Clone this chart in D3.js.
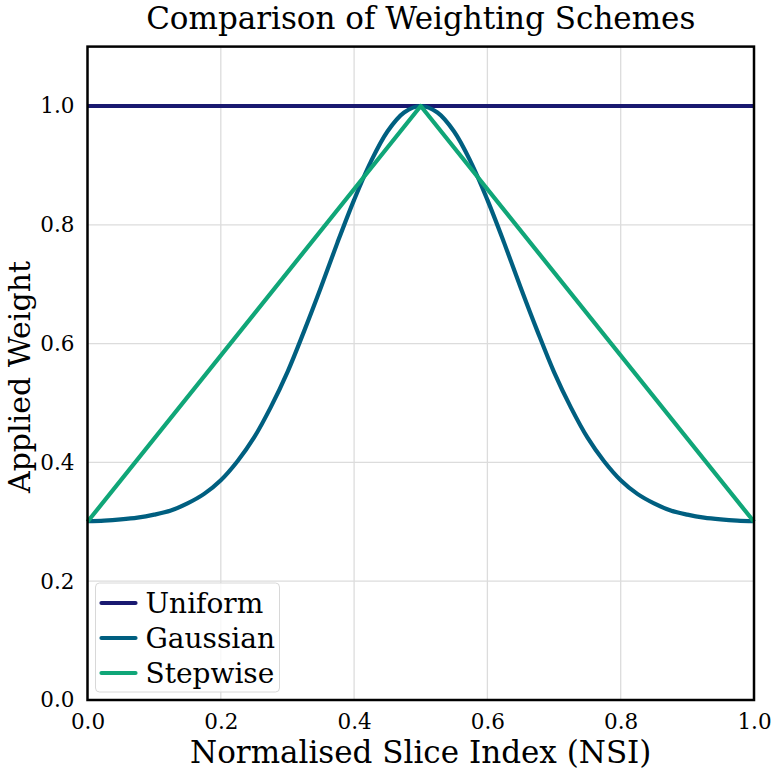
<!DOCTYPE html>
<html>
<head>
<meta charset="utf-8">
<script src="https://cdn.jsdelivr.net/npm/d3@7"></script>
<style>
  body { margin: 0; background: #fff; }
  text { font-family: "DejaVu Serif", serif; }
</style>
</head>
<body>
<div id="chart"></div>
<script>
// values
var nsi = [0, 0.025, 0.05, 0.075, 0.1, 0.125, 0.15, 0.175, 0.2, 0.225, 0.25, 0.275, 0.3, 0.325, 0.35, 0.375, 0.4, 0.425, 0.45, 0.475, 0.5,
           0.525, 0.55, 0.575, 0.6, 0.625, 0.65, 0.675, 0.7, 0.725, 0.75, 0.775, 0.8, 0.825, 0.85, 0.875, 0.9, 0.925, 0.95, 0.975, 1];
var gaussian = [0.301, 0.302, 0.304, 0.307, 0.312, 0.319, 0.331, 0.347, 0.370, 0.402, 0.442, 0.493, 0.552, 0.621, 0.694, 0.770, 0.842, 0.906, 0.957, 0.989, 1.0,
                0.989, 0.957, 0.906, 0.842, 0.770, 0.694, 0.621, 0.552, 0.493, 0.442, 0.402, 0.370, 0.347, 0.331, 0.319, 0.312, 0.307, 0.304, 0.302, 0.301];
var stepX = [0, 0.5, 1];
var stepwise = [0.3, 1.0, 0.3];
var uniformX = [0, 1];
var uniform = [1.0, 1.0];

var seriesNames = ["Uniform", "Gaussian", "Stepwise"];
var colors = ["#191970", "#005f80", "#10a678"];
var xTicks = [0, 0.2, 0.4, 0.6, 0.8, 1.0];
var yTicks = [0, 0.2, 0.4, 0.6, 0.8, 1.0];

var W = 774, H = 773;
var margin = { top: 46.6, right: 20, bottom: 73, left: 87.5 };
var width = 754 - margin.left;
var height = 700 - margin.top;

var svg = d3.select("#chart").append("svg")
  .attr("width", W)
  .attr("height", H);

var g = svg.append("g")
  .attr("transform", "translate(" + margin.left + "," + margin.top + ")");

var x = d3.scaleLinear().domain([0, 1]).range([0, width]);
var y = d3.scaleLinear().domain([0, 1.1]).range([height, 0]);

// grid
g.selectAll(".gx").data(xTicks.slice(1, -1)).enter().append("line")
  .attr("x1", function(d) { return x(d); })
  .attr("x2", function(d) { return x(d); })
  .attr("y1", 0).attr("y2", height)
  .attr("stroke", "#dcdcdc").attr("stroke-width", 1.3);

g.selectAll(".gy").data(yTicks.slice(1)).enter().append("line")
  .attr("x1", 0).attr("x2", width)
  .attr("y1", function(d) { return y(d); })
  .attr("y2", function(d) { return y(d); })
  .attr("stroke", "#dcdcdc").attr("stroke-width", 1.3);

// axes (ticks hidden, labels only)
var xAxis = g.append("g")
  .attr("transform", "translate(0," + height + ")")
  .call(d3.axisBottom(x).tickValues(xTicks).tickFormat(d3.format(".1f")).tickSize(0).tickPadding(0));
var yAxis = g.append("g")
  .call(d3.axisLeft(y).tickValues(yTicks).tickFormat(d3.format(".1f")).tickSize(0).tickPadding(13));

[xAxis, yAxis].forEach(function(a) {
  a.select(".domain").remove();
  a.selectAll("text")
    .attr("font-family", "DejaVu Serif")
    .attr("font-size", "21.5px")
    .attr("fill", "#000");
});
xAxis.selectAll("text").attr("y", 29).attr("dy", null);

var line = d3.line()
  .x(function(d) { return x(d[0]); })
  .y(function(d) { return y(d[1]); });

var lines = [
  uniformX.map(function(v, i) { return [v, uniform[i]]; }),
  nsi.map(function(v, i) { return [v, gaussian[i]]; }),
  stepX.map(function(v, i) { return [v, stepwise[i]]; })
];

g.selectAll(".series").data(lines).enter().append("path")
  .attr("class", "series")
  .attr("d", function(d, i) { return i === 1 ? line.curve(d3.curveCatmullRom)(d) : line.curve(d3.curveLinear)(d); })
  .attr("fill", "none")
  .attr("stroke", function(d, i) { return colors[i]; })
  .attr("stroke-width", 4.2)
  .attr("stroke-linejoin", "round");

// frame
g.append("rect")
  .attr("width", width).attr("height", height)
  .attr("fill", "none").attr("stroke", "#000").attr("stroke-width", 2.5);

// legend
var leg = g.append("g").attr("transform", "translate(8," + (height - 117) + ")");
leg.append("rect")
  .attr("width", 184).attr("height", 109)
  .attr("rx", 4)
  .attr("fill", "#fff").attr("fill-opacity", 0.8)
  .attr("stroke", "#d8d8d8").attr("stroke-width", 1);
seriesNames.forEach(function(name, i) {
  var yy = 20 + i * 35;
  leg.append("line")
    .attr("x1", 6).attr("x2", 40)
    .attr("y1", yy).attr("y2", yy)
    .attr("stroke", colors[i]).attr("stroke-width", 4.2)
    .attr("stroke-linecap", "round");
  leg.append("text")
    .attr("x", 50).attr("y", yy)
    .attr("dy", "0.35em")
    .attr("font-size", "28px")
    .text(name);
});

// titles
svg.append("text")
  .attr("x", margin.left + width / 2).attr("y", 29)
  .attr("text-anchor", "middle")
  .attr("font-size", "31px")
  .text("Comparison of Weighting Schemes");

svg.append("text")
  .attr("x", margin.left + width / 2).attr("y", 763)
  .attr("text-anchor", "middle")
  .attr("font-size", "31px")
  .text("Normalised Slice Index (NSI)");

svg.append("text")
  .attr("transform", "translate(30,377)rotate(-90)")
  .attr("text-anchor", "middle")
  .attr("font-size", "30px")
  .text("Applied Weight");
</script>
</body>
</html>
